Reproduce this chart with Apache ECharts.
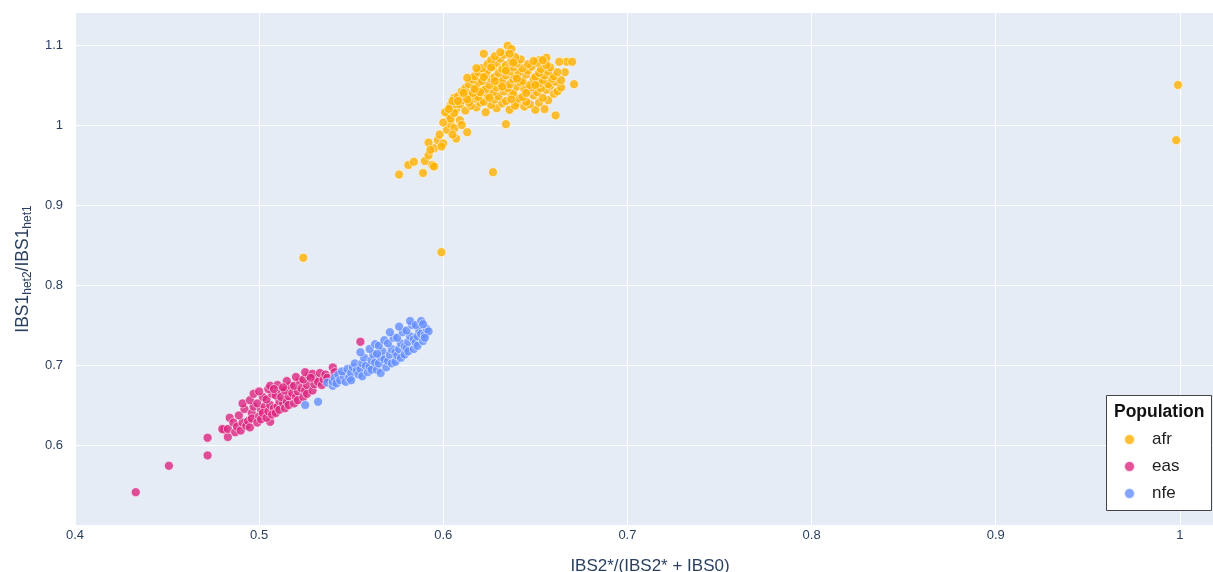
<!DOCTYPE html>
<html>
<head>
<meta charset="utf-8">
<title>IBS ratio by population</title>
<script src="https://cdn.jsdelivr.net/npm/echarts@6/dist/echarts.min.js"></script>
<style>
  html, body { margin: 0; padding: 0; background: #fff; }
  #chart { width: 1213px; height: 572px; }
</style>
</head>
<body>
<div id="chart"></div>
<script>
// population groups and their colours
const populations = ['afr', 'eas', 'nfe'];
const colors = ['#FFB000', '#DC267F', '#648FFF'];

// [IBS2*/(IBS2*+IBS0), IBS1het2/IBS1het1] per sample
const afr = [
  [0.576,0.938],[0.581,0.950],[0.584,0.954],[0.589,0.940],[0.590,0.955],[0.594,0.950],[0.592,0.962],
  [0.595,0.971],[0.597,0.981],[0.600,0.977],[0.592,0.978],[0.598,0.988],[0.602,0.994],[0.604,1.001],
  [0.600,1.003],[0.603,1.012],[0.601,1.016],[0.606,0.996],[0.609,1.006],[0.607,1.020],[0.604,1.024],
  [0.610,1.030],[0.606,1.034],[0.604,1.008],[0.606,1.015],[0.603,1.020],[0.607,1.026],[0.605,1.030],
  [0.613,0.991],[0.610,1.000],[0.607,0.983],[0.605,0.988],[0.599,0.973],[0.593,0.969],[0.595,0.948],
  [0.627,0.941],[0.524,0.834],[0.599,0.841],[0.999,1.050],[0.998,0.981],[0.634,1.001],[0.661,1.012],
  [0.650,1.019],[0.640,1.028],[0.671,1.051],[0.667,1.079],[0.670,1.079],[0.663,1.079],[0.666,1.066],
  [0.635,1.099],[0.637,1.095],[0.622,1.089],[0.655,1.020],[0.652,1.081],[0.656,1.084],
  [0.612,1.018],[0.618,1.022],[0.623,1.016],[0.629,1.021],[0.636,1.019],[0.644,1.023],
  [0.609,1.026],[0.615,1.024],[0.620,1.028],[0.626,1.025],[0.632,1.027],[0.639,1.024],[0.647,1.026],[0.652,1.028],
  [0.611,1.031],[0.617,1.033],[0.622,1.029],[0.628,1.032],[0.634,1.030],[0.641,1.033],[0.645,1.029],[0.657,1.031],
  [0.608,1.036],[0.613,1.038],[0.619,1.035],[0.624,1.037],[0.630,1.036],[0.637,1.038],[0.643,1.035],[0.649,1.037],[0.654,1.034],[0.660,1.039],
  [0.610,1.042],[0.616,1.040],[0.621,1.043],[0.627,1.041],[0.633,1.042],[0.638,1.040],[0.646,1.043],[0.651,1.041],[0.656,1.044],[0.662,1.042],
  [0.612,1.046],[0.618,1.048],[0.623,1.045],[0.629,1.047],[0.635,1.046],[0.640,1.048],[0.644,1.045],[0.648,1.047],[0.653,1.046],[0.658,1.049],[0.664,1.047],
  [0.614,1.051],[0.619,1.053],[0.625,1.050],[0.631,1.052],[0.636,1.051],[0.642,1.053],[0.647,1.050],[0.652,1.052],[0.657,1.051],[0.661,1.054],
  [0.616,1.057],[0.621,1.055],[0.626,1.058],[0.632,1.056],[0.638,1.057],[0.643,1.055],[0.649,1.058],[0.654,1.056],[0.659,1.058],[0.664,1.056],
  [0.617,1.061],[0.623,1.063],[0.628,1.060],[0.634,1.062],[0.639,1.061],[0.645,1.063],[0.650,1.060],[0.655,1.062],[0.660,1.061],
  [0.619,1.066],[0.624,1.068],[0.630,1.065],[0.636,1.067],[0.641,1.066],[0.646,1.068],[0.652,1.065],[0.657,1.067],[0.662,1.066],
  [0.621,1.071],[0.627,1.073],[0.632,1.070],[0.638,1.072],[0.643,1.071],[0.648,1.073],[0.653,1.070],[0.658,1.072],
  [0.624,1.076],[0.629,1.078],[0.634,1.075],[0.640,1.077],[0.646,1.076],[0.651,1.078],[0.656,1.075],
  [0.626,1.081],[0.631,1.083],[0.637,1.080],[0.642,1.082],[0.649,1.080],[0.654,1.081],
  [0.628,1.086],[0.633,1.088],[0.639,1.085],[0.631,1.091],[0.636,1.089],
  [0.614,1.028],[0.625,1.034],[0.637,1.032],[0.620,1.041],[0.632,1.048],[0.617,1.045],[0.628,1.055],
  [0.640,1.058],[0.622,1.060],[0.634,1.068],[0.645,1.040],[0.650,1.050],[0.626,1.072],[0.638,1.078],
  [0.613,1.032],[0.608,1.030],[0.611,1.040],[0.613,1.059],[0.618,1.071]
];

const eas = [
  [0.433,0.541],[0.451,0.574],[0.472,0.609],[0.472,0.587],[0.481,0.619],[0.480,0.620],[0.483,0.610],
  [0.484,0.634],[0.506,0.629],[0.540,0.697],[0.541,0.691],[0.555,0.729],
  [0.483,0.620],[0.486,0.628],[0.487,0.616],[0.488,0.623],
  [0.490,0.618],[0.491,0.628],[0.489,0.637],[0.492,0.645],[0.493,0.624],[0.491,0.652],
  [0.494,0.630],[0.496,0.640],[0.495,0.622],[0.497,0.648],[0.495,0.656],[0.496,0.633],[0.497,0.664],
  [0.499,0.628],[0.500,0.636],[0.501,0.644],[0.499,0.652],[0.502,0.660],[0.500,0.667],[0.501,0.632],[0.503,0.648],[0.502,0.640],
  [0.504,0.634],[0.505,0.642],[0.506,0.650],[0.504,0.657],[0.507,0.664],[0.505,0.670],[0.508,0.646],[0.507,0.638],[0.506,0.674],
  [0.509,0.640],[0.510,0.648],[0.511,0.655],[0.509,0.662],[0.512,0.668],[0.510,0.675],[0.511,0.644],[0.513,0.652],[0.512,0.660],[0.508,0.670],
  [0.514,0.646],[0.515,0.654],[0.516,0.661],[0.514,0.668],[0.517,0.674],[0.515,0.680],[0.516,0.650],[0.518,0.665],[0.513,0.672],
  [0.519,0.652],[0.520,0.660],[0.521,0.667],[0.519,0.674],[0.522,0.680],[0.520,0.685],[0.521,0.656],[0.523,0.671],
  [0.524,0.660],[0.525,0.668],[0.526,0.675],[0.524,0.682],[0.527,0.687],[0.525,0.691],[0.526,0.664],
  [0.529,0.668],[0.530,0.676],[0.531,0.683],[0.529,0.689],[0.532,0.679],[0.533,0.690],[0.528,0.684],
  [0.534,0.675],[0.535,0.682],[0.536,0.688],[0.537,0.684]
];

const nfe = [
  [0.525,0.650],[0.532,0.654],[0.537,0.678],[0.540,0.674],
  [0.540,0.679],[0.541,0.684],[0.542,0.677],[0.543,0.688],
  [0.544,0.681],[0.546,0.686],[0.545,0.692],[0.547,0.679],[0.548,0.695],
  [0.549,0.684],[0.550,0.690],[0.551,0.697],[0.552,0.702],[0.550,0.681],[0.553,0.693],
  [0.554,0.688],[0.555,0.695],[0.556,0.702],[0.557,0.709],[0.555,0.716],[0.558,0.699],[0.556,0.686],
  [0.559,0.691],[0.560,0.698],[0.561,0.706],[0.562,0.713],[0.560,0.720],[0.563,0.726],[0.561,0.694],[0.563,0.703],
  [0.564,0.694],[0.565,0.702],[0.566,0.710],[0.567,0.717],[0.565,0.724],[0.568,0.731],[0.566,0.690],[0.568,0.707],[0.564,0.714],
  [0.569,0.697],[0.570,0.705],[0.571,0.713],[0.572,0.720],[0.570,0.727],[0.573,0.734],[0.571,0.741],[0.572,0.702],[0.574,0.716],
  [0.574,0.704],[0.575,0.712],[0.576,0.720],[0.577,0.727],[0.575,0.734],[0.578,0.741],[0.576,0.748],[0.577,0.709],[0.579,0.723],
  [0.579,0.713],[0.580,0.721],[0.581,0.729],[0.582,0.736],[0.580,0.743],[0.583,0.750],[0.582,0.755],[0.581,0.717],[0.584,0.732],
  [0.584,0.720],[0.585,0.728],[0.586,0.736],[0.587,0.743],[0.585,0.750],[0.588,0.755],[0.586,0.724],[0.588,0.739],
  [0.589,0.730],[0.590,0.738],[0.591,0.745],[0.589,0.751],[0.592,0.742],[0.590,0.734]
];

const seriesData = [afr, eas, nfe];

const chart = echarts.init(document.getElementById('chart'));
const font = 'Liberation Sans, Arial, sans-serif';
const axisColor = '#2a3f5f';

chart.setOption({
  animation: false,
  textStyle: { fontFamily: font },
  grid: {
    left: 75, right: 0, top: 13, bottom: 47,
    outerBoundsMode: 'none', containLabel: false,
    show: true, backgroundColor: '#E5ECF6', borderWidth: 0
  },
  xAxis: {
    type: 'value', min: 0.4, max: 1.018, interval: 0.1,
    name: 'IBS2*/(IBS2* + IBS0)', nameLocation: 'middle', nameGap: 33,
    nameTextStyle: { fontSize: 17, color: axisColor, fontFamily: font, padding: [0, 0, 0, 12] },
    axisLine: { show: false }, axisTick: { show: false },
    axisLabel: { color: axisColor, fontSize: 13, margin: 4, showMaxLabel: false },
    splitLine: { lineStyle: { color: '#ffffff', width: 1 }, showMaxLine: false }
  },
  yAxis: {
    type: 'value', min: 0.5, max: 1.14, interval: 0.1,
    name: 'IBS1{s|het2}/IBS1{s|het1}', nameLocation: 'middle', nameGap: 41,
    nameTextStyle: {
      fontSize: 17.5, color: axisColor, fontFamily: font,
      rich: { s: { fontSize: 12, color: axisColor, fontFamily: font, verticalAlign: 'bottom', padding: [9, 0, 0, 0] } }
    },
    axisLine: { show: false }, axisTick: { show: false },
    axisLabel: { color: axisColor, fontSize: 13, margin: 12, showMinLabel: false, showMaxLabel: false },
    splitLine: { lineStyle: { color: '#ffffff', width: 1 }, showMinLine: false, showMaxLine: false }
  },
  legend: {
    orient: 'vertical', left: 1123, top: 431, padding: 0,
    itemWidth: 11, itemHeight: 11, itemGap: 10,
    z: 6,
    data: populations.map(p => ({ name: p, icon: 'circle' })),
    textStyle: { fontSize: 17, color: '#222', fontFamily: font, padding: [0, 0, 0, 12] }
  },
  graphic: [
    {
      type: 'rect', z: 5,
      shape: { x: 1106.5, y: 395.5, width: 105, height: 115 },
      style: { fill: '#ffffff', stroke: '#444444', lineWidth: 1 }
    },
    {
      type: 'text', z: 6, left: 1114, top: 403,
      style: { text: 'Population', fontSize: 17.5, fontWeight: 'bold', fill: '#111111', fontFamily: font }
    }
  ],
  series: populations.map((p, i) => ({
    name: p,
    type: 'scatter',
    data: seriesData[i],
    symbolSize: 9,
    itemStyle: { color: colors[i], opacity: 0.8, borderColor: '#ffffff', borderWidth: 0.7 }
  }))
});
</script>
</body>
</html>
